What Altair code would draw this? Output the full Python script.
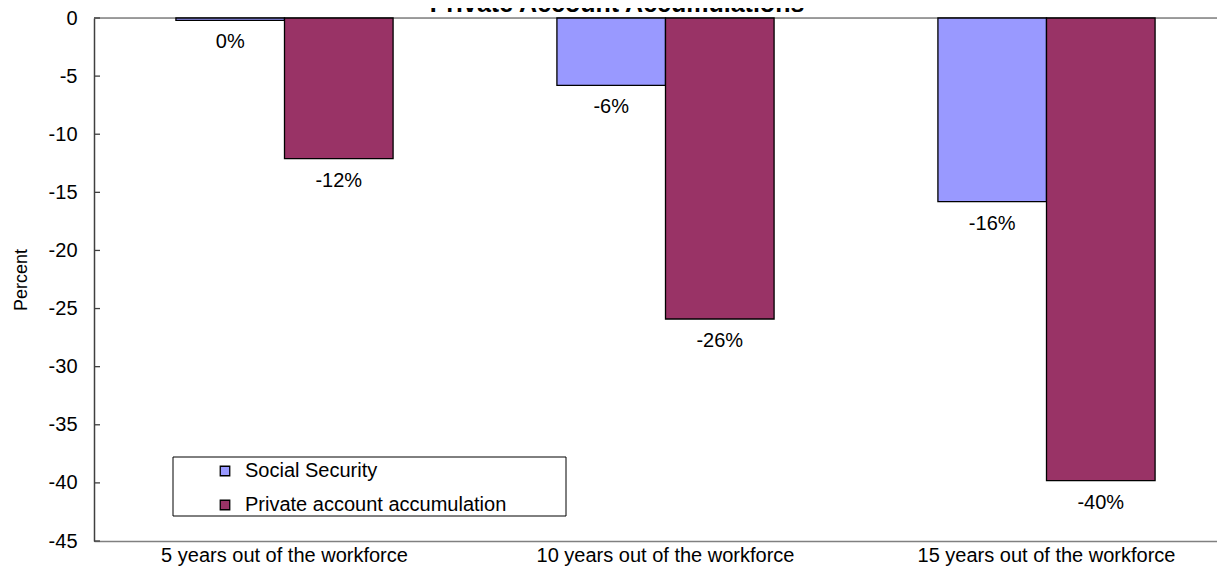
import altair as alt
import pandas as pd

categories = ["5 years out of the workforce", "10 years out of the workforce", "15 years out of the workforce"]
series = ["Social Security", "Private account accumulation"]
social_security = [-0.2, -5.8, -15.8]
private_account = [-12.1, -25.9, -39.8]
y_ticks = [0, -5, -10, -15, -20, -25, -30, -35, -40, -45]
colors = ["#9999FF", "#993366"]
title_text = "Private Account Accumulations"

rows = []
for c, v in zip(categories, social_security):
    rows.append({"cat": c, "series": series[0], "value": v, "label": f"{int(round(v))}%"})
for c, v in zip(categories, private_account):
    rows.append({"cat": c, "series": series[1], "value": v, "label": f"{int(round(v))}%"})
df = pd.DataFrame(rows)

FONT = "Liberation Sans"
PLOT_W = 1123
RANGE_W = 1143
PLOT_H = 523

x_scale = alt.Scale(paddingInner=0.43, paddingOuter=0.215, range=[0, RANGE_W])
x_enc = alt.X("cat:N", sort=categories, scale=x_scale,
              axis=alt.Axis(title=None, labelAngle=0, labelFontSize=20, labelFont=FONT,
                            labelColor="black", labelPadding=4, ticks=False, labelLimit=0,
                            domainColor="#808080", domainWidth=1.5))
y_scale = alt.Scale(domain=[-45, 0], nice=False, zero=False)
xoff = alt.XOffset("series:N", sort=series, scale=alt.Scale(paddingInner=0, paddingOuter=0))

bars = alt.Chart(df).mark_bar(stroke="black", strokeWidth=1.3).encode(
    x=x_enc,
    xOffset=xoff,
    y=alt.Y("value:Q", scale=y_scale,
            axis=alt.Axis(values=y_ticks, title="Percent", titleFontSize=18, titleFont=FONT,
                          titleFontWeight="normal", titleColor="black", titlePadding=18,
                          labelFontSize=20, labelFont=FONT, labelColor="black",
                          labelExpr="'' + datum.value",
                          labelPadding=17, ticks=False, grid=False,
                          domainColor="#404040", domainWidth=1.5)),
    y2=alt.datum(0),
    color=alt.Color("series:N", sort=series,
                    scale=alt.Scale(domain=series, range=colors),
                    legend=alt.Legend(title=None, orient="none", legendX=121, legendY=443,
                                      symbolType="square", symbolSize=90,
                                      symbolStrokeColor="black", symbolStrokeWidth=1.3,
                                      labelFontSize=20, labelFont=FONT, labelColor="black",
                                      labelLimit=0,
                                      labelOffset=10, rowPadding=14, padding=0)),
)

labels = alt.Chart(df).mark_text(font=FONT, fontSize=20, color="black", baseline="middle", dy=22).encode(
    x=alt.X("cat:N", sort=categories, scale=x_scale),
    xOffset=xoff,
    y=alt.Y("value:Q", scale=y_scale),
    text="label:N",
)

tick_df = pd.DataFrame({"t": y_ticks})
ticks = alt.Chart(tick_df).mark_rule(color="#404040", strokeWidth=1.3).encode(
    y=alt.Y("t:Q", scale=y_scale),
    x=alt.value(0), x2=alt.value(6),
)

zero_line = alt.Chart(pd.DataFrame({"z": [0]})).mark_rule(color="#808080", strokeWidth=1.5).encode(
    y=alt.Y("z:Q", scale=y_scale),
    x=alt.value(0), x2=alt.value(RANGE_W),
)

legend_box = alt.Chart(pd.DataFrame({"b": [0]})).mark_rect(fill="white", stroke="black", strokeWidth=1).encode(
    x=alt.value(79), x2=alt.value(472), y=alt.value(439), y2=alt.value(498),
)

title = alt.Chart(pd.DataFrame({"t": [title_text]})).mark_text(
    font=FONT, fontSize=25, fontWeight="bold", color="black", baseline="alphabetic", align="center"
).encode(x=alt.value(523), y=alt.value(-6), text="t:N")

chart = alt.layer(zero_line, bars, labels, ticks, legend_box, title).properties(
    width=PLOT_W, height=PLOT_H,
    autosize=alt.AutoSizeParams(type="none"),
    padding={"left": 86, "top": 10, "right": 0, "bottom": 26},
).configure_view(stroke=None).configure(background="white")

chart.save("out.html", embed_options={"renderer": "svg", "actions": False})
